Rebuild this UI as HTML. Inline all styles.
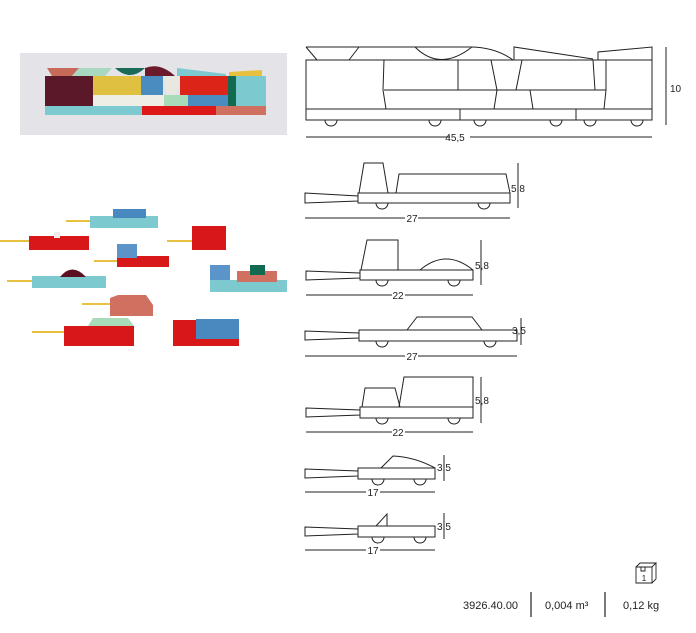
<!DOCTYPE html>
<html><head><meta charset="utf-8"><style>
body{margin:0;background:#fff;width:696px;height:633px;overflow:hidden}
svg{position:absolute;left:0;top:0}
text{font-family:"Liberation Sans",sans-serif;font-size:10px;fill:#222}
</style></head><body>
<svg width="696" height="633" viewBox="0 0 696 633">
<!-- top photo -->
<rect x="20" y="53" width="267" height="82" fill="#e3e3e8"/>
<polygon points="47,68 79,68 72,76 52,76" fill="#c86a5a"/>
<polygon points="79,68 112,68 105,76 72,76" fill="#a8d8c0"/>
<path d="M115,68 Q130,82 145,68 Z" fill="#1a6a58"/>
<path d="M145,68 Q160,62 175,76 L145,76 Z" fill="#6a1a2a"/>
<polygon points="177,68 226,74 226,76 177,76" fill="#7ccad0"/>
<polygon points="229,72 262,70 262,76 229,76" fill="#e8c040"/>
<rect x="45" y="76" width="48" height="30" fill="#5a1828"/>
<rect x="93" y="76" width="48" height="19" fill="#e0c040"/>
<rect x="93" y="95" width="71" height="11" fill="#eeeee6"/>
<rect x="141" y="76" width="22" height="19" fill="#4a8cc0"/>
<polygon points="163,76 180,76 176,95 167,95" fill="#e8e8e0"/>
<rect x="180" y="76" width="48" height="19" fill="#dd2418"/>
<rect x="164" y="95" width="24" height="11" fill="#a8dcb8"/>
<rect x="188" y="95" width="48" height="11" fill="#4a8cc0"/>
<rect x="228" y="76" width="8" height="30" fill="#126a50"/>
<rect x="236" y="76" width="30" height="30" fill="#7ccad0"/>
<rect x="45" y="106" width="97" height="9" fill="#7ccad0"/>
<rect x="142" y="106" width="74" height="9" fill="#dd1818"/>
<rect x="216" y="106" width="50" height="9" fill="#d07060"/>
<!-- cars photo -->
<g>
<rect x="66" y="220" width="24" height="2" fill="#e8c040"/><rect x="90" y="216" width="68" height="12" fill="#7ccad0"/><rect x="113" y="209" width="33" height="9" fill="#4a88c0"/>
<rect x="0" y="240" width="30" height="2" fill="#e8c040"/><rect x="29" y="236" width="60" height="14" fill="#d81818"/><rect x="54" y="232" width="6" height="6" fill="#eee"/>
<rect x="94" y="260" width="24" height="2" fill="#e8c040"/><rect x="117" y="256" width="52" height="11" fill="#d81818"/><rect x="117" y="244" width="20" height="14" fill="#5a94c8"/>
<rect x="167" y="240" width="26" height="2" fill="#e8c040"/><rect x="192" y="226" width="34" height="24" fill="#d81818"/>
<rect x="7" y="280" width="26" height="2" fill="#e8c040"/><rect x="32" y="276" width="74" height="12" fill="#7ccad0"/><path d="M60,277 Q72,262 86,277Z" fill="#5a1020"/>
<rect x="210" y="265" width="20" height="22" fill="#5a94c8"/><rect x="210" y="280" width="77" height="12" fill="#7ccad0"/><rect x="237" y="271" width="40" height="11" fill="#d07060"/><rect x="250" y="265" width="15" height="10" fill="#126a50"/>
<rect x="82" y="303" width="28" height="2" fill="#e8c040"/><polygon points="110,298 118,295 146,295 153,305 153,316 110,316" fill="#d07060"/>
<rect x="32" y="331" width="32" height="2" fill="#e8c040"/><rect x="64" y="326" width="70" height="20" fill="#d81818"/><polygon points="88,326 93,318 128,318 134,326" fill="#a8dcb8"/>
<rect x="173" y="320" width="66" height="26" fill="#d81818"/><rect x="196" y="319" width="43" height="20" fill="#4a88c0"/>
</g>
<g fill="none" stroke="#222" stroke-width="1">
<!-- top drawing -->
<rect x="306" y="60" width="346" height="49"/>
<rect x="306" y="109" width="346" height="11"/>
<line x1="460" y1="109" x2="460" y2="120"/><line x1="576" y1="109" x2="576" y2="120"/>
<path d="M325,120 a6,6 0 0 0 12,0 M429,120 a6,6 0 0 0 12,0 M474,120 a6,6 0 0 0 12,0 M550,120 a6,6 0 0 0 12,0 M584,120 a6,6 0 0 0 12,0 M631,120 a6,6 0 0 0 12,0"/>
<path d="M306,47 L470,47 Q495,47 513,60 M306,47 L317,60 M359,47 L349,60 M415,47 Q440,72 472,47 M514,60 L514,47 L593,59 M598,60 L598,52 L652,47 L652,60"/>
<line x1="384" y1="90" x2="606" y2="90"/>
<path d="M384,60 L383,90 L386,109 M458,60 L458,90 M491,60 L497,90 L494,109 M522,60 L516,90 M530,90 L533,109 M593,60 L595,90 L606,90 L606,60 M595,60 L606,60 M606,90 L604,109"/>
<line x1="306" y1="137" x2="450" y2="137"/><line x1="470" y1="137" x2="652" y2="137"/>
<line x1="666" y1="47" x2="666" y2="125"/>
<!-- car1 -->
<rect x="358" y="193" width="152" height="10"/>
<polygon points="305,193 358,196 358,201 305,203"/>
<polygon points="364,163 383,163 388,193 359,193"/>
<polygon points="399,174 506,174 510,193 396,193"/>
<path d="M376,203 a6,6 0 0 0 12,0 M478,203 a6,6 0 0 0 12,0"/>
<line x1="305" y1="218" x2="405" y2="218"/><line x1="418" y1="218" x2="510" y2="218"/>
<line x1="518" y1="163" x2="518" y2="208"/>
<!-- car2 -->
<rect x="360" y="270" width="113" height="10"/>
<polygon points="306,271 360,273 360,278 306,280"/>
<polygon points="367,240 398,240 398,270 361,270"/>
<path d="M420,270 Q446,248 473,270"/>
<path d="M376,280 a6,6 0 0 0 12,0 M448,280 a6,6 0 0 0 12,0"/>
<line x1="306" y1="295" x2="392" y2="295"/><line x1="405" y1="295" x2="473" y2="295"/>
<line x1="481" y1="240" x2="481" y2="285"/>
<!-- car3 -->
<rect x="359" y="330" width="158" height="11"/>
<polygon points="305,331 359,333 359,338 305,340"/>
<polygon points="407,330 417,317 472,317 482,330"/>
<path d="M376,341 a6,6 0 0 0 12,0 M484,341 a6,6 0 0 0 12,0"/>
<line x1="305" y1="356" x2="405" y2="356"/><line x1="418" y1="356" x2="517" y2="356"/>
<line x1="521" y1="318" x2="521" y2="345"/>
<!-- car4 -->
<rect x="360" y="407" width="113" height="11"/>
<polygon points="306,408 360,410 360,415 306,417"/>
<polygon points="365,388 395,388 400,407 362,407"/>
<polygon points="404,377 473,377 473,407 399,407"/>
<path d="M376,418 a6,6 0 0 0 12,0 M448,418 a6,6 0 0 0 12,0"/>
<line x1="306" y1="432" x2="392" y2="432"/><line x1="405" y1="432" x2="473" y2="432"/>
<line x1="481" y1="377" x2="481" y2="423"/>
<!-- car5 -->
<rect x="358" y="468" width="77" height="11"/>
<polygon points="305,469 358,471 358,476 305,478"/>
<path d="M381,468 L393,456 Q415,457 435,468 M381,468 L435,468"/>
<path d="M372,479 a6,6 0 0 0 12,0 M414,479 a6,6 0 0 0 12,0"/>
<line x1="305" y1="492" x2="366" y2="492"/><line x1="380" y1="492" x2="435" y2="492"/>
<line x1="444" y1="455" x2="444" y2="481"/>
<!-- car6 -->
<rect x="358" y="526" width="77" height="11"/>
<polygon points="305,527 358,529 358,534 305,536"/>
<polygon points="376,526 387,514 387,526"/>
<path d="M372,537 a6,6 0 0 0 12,0 M414,537 a6,6 0 0 0 12,0"/>
<line x1="305" y1="550" x2="366" y2="550"/><line x1="380" y1="550" x2="435" y2="550"/>
<line x1="444" y1="513" x2="444" y2="539"/>
<!-- footer -->
<line x1="531" y1="592" x2="531" y2="617" stroke-width="1.2"/>
<line x1="605" y1="592" x2="605" y2="617" stroke-width="1.2"/>
<path d="M636,567 L652,567 L652,583 L636,583 Z M636,567 L640,563 L656,563 L652,567 M656,563 L656,579 L652,583 M641,567 L641,571 L645,571 L645,567" stroke-width="0.9"/>
</g>
<text x="455" y="141" text-anchor="middle">45,5</text>
<text x="670" y="92">10</text>
<text x="412" y="222" text-anchor="middle">27</text>
<text x="511" y="192">5,8</text>
<text x="398" y="299" text-anchor="middle">22</text>
<text x="475" y="269">5,8</text>
<text x="412" y="360" text-anchor="middle">27</text>
<text x="512" y="334">3,5</text>
<text x="398" y="436" text-anchor="middle">22</text>
<text x="475" y="404">5,8</text>
<text x="373" y="496" text-anchor="middle">17</text>
<text x="437" y="471">3,5</text>
<text x="373" y="554" text-anchor="middle">17</text>
<text x="437" y="530">3,5</text>
<text x="644" y="581" text-anchor="middle" style="font-size:8px">1</text>
<text x="463" y="609" style="font-size:11px">3926.40.00</text>
<text x="545" y="609" style="font-size:11px">0,004 m³</text>
<text x="623" y="609" style="font-size:11px">0,12 kg</text>
</svg>
</body></html>
